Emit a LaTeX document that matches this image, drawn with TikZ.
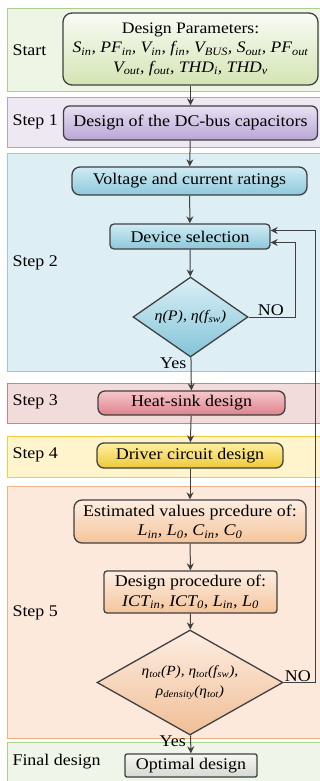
\documentclass[tikz,border=0pt]{standalone}
\usepackage{fontspec}
\setmainfont[FakeStretch=1.1]{Liberation Serif}
\usetikzlibrary{shapes.geometric,arrows.meta,calc}
\newcommand{\ssb}[1]{\textsubscript{\itshape #1}}
\definecolor{gband}{HTML}{EFF5E4}\definecolor{gbord}{HTML}{A9D18E}
\definecolor{pband}{HTML}{EEE8F2}\definecolor{pbord}{HTML}{B4A0C8}
\definecolor{bband}{HTML}{DDEEF5}\definecolor{bbord}{HTML}{92CDDC}
\definecolor{rband}{HTML}{F2DCDB}\definecolor{rbord}{HTML}{E07A7A}
\definecolor{yband}{HTML}{FFF4CC}\definecolor{ybord}{HTML}{F5CB45}
\definecolor{oband}{HTML}{FDE9DC}\definecolor{obord}{HTML}{F4B183}
\definecolor{fband}{HTML}{EFF5E8}
\definecolor{edge}{HTML}{404040}
\tikzset{
  band/.style={line width=0.8pt},
  box/.style={draw=edge, line width=1.3pt, rounded corners=6pt, align=center, inner sep=1pt},
  dia/.style={draw=edge, line width=1.3pt, diamond, aspect=1.5, inner sep=0pt, align=center},
  lab/.style={anchor=west, font=\fontsize{16.3}{18}\selectfont},
  arr/.style={draw=edge, line width=1pt, -{Stealth[length=7pt,width=7pt]}},
  txt/.style={font=\fontsize{16.3}{18}\selectfont}
}
\begin{document}
\begin{tikzpicture}[x=1pt,y=-1pt]
\useasboundingbox (0,0) rectangle (320,781);
\fill[white] (0,0) rectangle (320,781);
% bands
\path[band, fill=gband, draw=gbord] (7,8) rectangle (325,91);
\path[band, fill=pband, draw=pbord] (7,97) rectangle (325,147);
\path[band, fill=bband, draw=bbord] (7,153) rectangle (325,371);
\path[band, fill=rband, draw=rbord] (7,383) rectangle (325,423);
\path[band, fill=yband, draw=ybord] (7,436) rectangle (325,477);
\path[band, fill=oband, draw=obord] (7,486) rectangle (325,738);
\path[band, fill=fband, draw=gbord] (7,742) rectangle (325,790);
% labels
\node[lab] (lstart) at (9,50) {Start};
\node[lab] (l1) at (9,122) {Step 1};
\node[lab] (l2) at (9,263) {Step 2};
\node[lab] (l3) at (9,402) {Step 3};
\node[lab] (l4) at (9,455) {Step 4};
\node[lab] (l5) at (9,613) {Step 5};
\node[lab] (lf) at (9,762) {Final design};
% nodes
\node[box, rounded corners=9pt, top color=white!60!gband, bottom color={rgb,255:red,212;green,228;blue,180}, minimum width=255pt, minimum height=72pt, font=\fontsize{16}{19.5}\selectfont] (start) at (190.5,49) {Design Parameters:\\ \itshape S\ssb{in}, PF\ssb{in}, V\ssb{in}, f\ssb{in}, V\ssb{BUS}, S\ssb{out}, PF\ssb{out}\\ \itshape V\ssb{out}, f\ssb{out}, THD\ssb{i}, THD\ssb{v}};
\node[box, top color={rgb,255:red,232;green,224;blue,242}, bottom color={rgb,255:red,184;green,166;blue,214}, minimum width=254pt, minimum height=34pt, txt] (s1) at (190.5,123) {Design of the DC-bus capacitors};
\node[box, rounded corners=8pt, top color={rgb,255:red,208;green,236;blue,244}, bottom color={rgb,255:red,140;green,200;blue,220}, minimum width=235pt, minimum height=28pt, txt] (volt) at (189.5,181) {Voltage and current ratings};
\node[box, rounded corners=4pt, top color={rgb,255:red,208;green,236;blue,244}, bottom color={rgb,255:red,140;green,200;blue,220}, minimum width=160pt, minimum height=25pt, txt] (dev) at (190,236.5) {Device selection};
\node[dia, top color={rgb,255:red,220;green,240;blue,246}, bottom color={rgb,255:red,130;green,196;blue,216}, minimum width=115pt, minimum height=80pt, font=\fontsize{14.5}{16}\selectfont\itshape] (d1) at (190.5,317) {η(P), η(f\ssb{sw})};
\node[box, rounded corners=7pt, top color={rgb,255:red,246;green,200;blue,204}, bottom color={rgb,255:red,222;green,130;blue,140}, minimum width=187pt, minimum height=24pt, txt] (heat) at (191.5,403) {Heat-sink design};
\node[box, rounded corners=7pt, top color={rgb,255:red,255;green,240;blue,160}, bottom color={rgb,255:red,238;green,200;blue,60}, minimum width=186pt, minimum height=25pt, txt] (drv) at (190,455.5) {Driver circuit design};
\node[box, rounded corners=8pt, top color={rgb,255:red,253;green,238;blue,226}, bottom color={rgb,255:red,244;green,196;blue,156}, minimum width=232pt, minimum height=43pt, font=\fontsize{16.3}{19.5}\selectfont] (est) at (190,521.5) {Estimated values prcedure of:\\ \itshape L\ssb{in}, L\ssb{0}, C\ssb{in}, C\ssb{0}};
\node[box, rounded corners=3pt, top color={rgb,255:red,253;green,238;blue,226}, bottom color={rgb,255:red,244;green,196;blue,156}, minimum width=173pt, minimum height=42pt, font=\fontsize{16.3}{19.5}\selectfont] (dp) at (190.5,592) {Design procedure of:\\ \itshape ICT\ssb{in}, ICT\ssb{0}, L\ssb{in}, L\ssb{0}};
\node[dia, top color={rgb,255:red,253;green,238;blue,226}, bottom color={rgb,255:red,240;green,190;blue,150}, minimum width=186pt, minimum height=105pt, font=\fontsize{14}{20}\selectfont\itshape] (d2) at (190,682.5) {η\ssb{tot}(P), η\ssb{tot}(f\ssb{sw}),\\ ρ\ssb{density}(η\ssb{tot})};
\node[box, rounded corners=2pt, top color={rgb,255:red,246;green,246;blue,242}, bottom color={rgb,255:red,214;green,218;blue,210}, minimum width=132pt, minimum height=23pt, txt] (opt) at (191,765.5) {Optimal design};
% connectors
\draw[arr] (start) -- (s1);
\draw[arr] (s1) -- (volt);
\draw[arr] (volt) -- (dev);
\draw[arr] (dev) -- (d1);
\draw[arr] (d1) -- (heat);
\draw[arr] (heat) -- (drv);
\draw[arr] (drv) -- (est);
\draw[arr] (est) -- (dp);
\draw[arr] (dp) -- (d2);
\draw[arr] (d2) -- (opt);
\draw[arr] (d1.east) -- ++(47,0) |- ([yshift=-6pt]dev.east);
\draw[arr] (d2.east) -- ++(32,0) |- ([yshift=6pt]dev.east);
% labels on connectors
\node[txt, anchor=south west, inner sep=1pt] (no1) at ([xshift=8pt]d1.east) {NO};
\node[txt, anchor=south west, inner sep=1pt] (no2) at ([xshift=0pt]d2.east) {NO};
\node[txt, anchor=north east, inner sep=1pt] (y1) at ([xshift=-3pt,yshift=1pt]d1.south) {Yes};
\node[txt, anchor=north east, inner sep=1pt] (y2) at ([xshift=-3pt,yshift=1pt]d2.south) {Yes};
\end{tikzpicture}
\end{document}
